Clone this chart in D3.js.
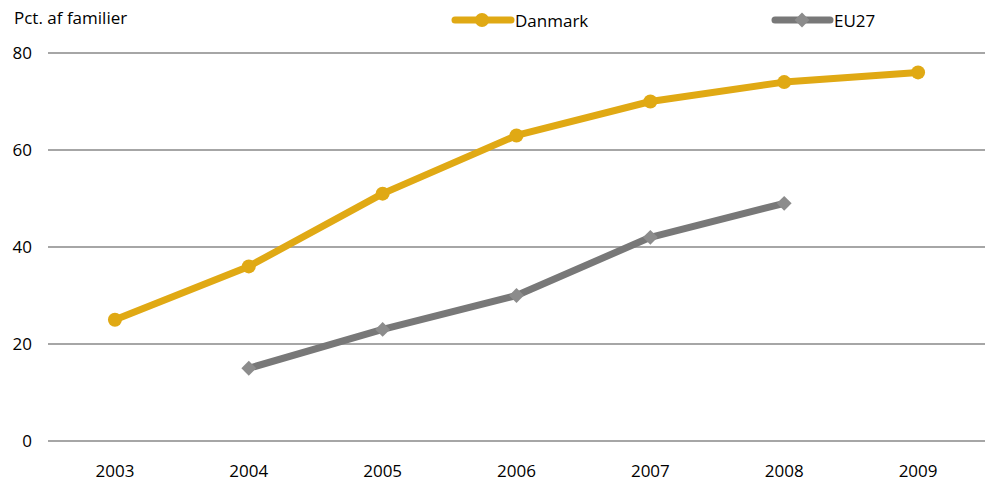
<!DOCTYPE html>
<html>
<head>
<meta charset="utf-8">
<script src="https://cdn.jsdelivr.net/npm/d3@7"></script>
<style>
  body { margin: 0; background: #fff; }
  text { font-family: "Open Sans", "Noto Sans", sans-serif; fill: #000; }
</style>
</head>
<body>
<svg id="chart"></svg>
<script>
const years = ["2003", "2004", "2005", "2006", "2007", "2008", "2009"];
const danmark = [25, 36, 51, 63, 70, 74, 76];
const eu27 = [null, 15, 23, 30, 42, 49, null];
const yTicks = [0, 20, 40, 60, 80];

const width = 993, height = 483;
const svg = d3.select("#chart").attr("width", width).attr("height", height);

const x = d3.scaleBand().domain(years).range([48, 985]);
const y = d3.scaleLinear().domain([0, 80]).range([441, 53]);
const cx = d => x(d) + x.bandwidth() / 2;

// grid
svg.append("g").selectAll("line")
  .data(yTicks).join("line")
  .attr("x1", 48).attr("x2", 985)
  .attr("y1", d => y(d)).attr("y2", d => y(d))
  .attr("stroke", "#a6a6a6").attr("stroke-width", 2);

svg.append("g").selectAll("text")
  .data(yTicks).join("text")
  .attr("x", 32).attr("y", d => y(d)).attr("dy", "0.35em")
  .attr("text-anchor", "end").attr("font-size", 17)
  .text(d => d);

svg.append("g").selectAll("text")
  .data(years).join("text")
  .attr("x", d => cx(d)).attr("y", 477)
  .attr("text-anchor", "middle").attr("font-size", 17)
  .text(d => d);

svg.append("text").attr("x", 14).attr("y", 24).attr("font-size", 17)
  .text("Pct. af familier");

const line = d3.line()
  .defined(d => d.v !== null)
  .x(d => cx(d.year)).y(d => y(d.v));

function pts(vals) {
  return years.map((yr, i) => ({ year: yr, v: vals[i] }));
}

const danColor = "#e0a914";
const euLine = "#787878", euMark = "#8c8c8c";

svg.append("path").datum(pts(danmark))
  .attr("d", line).attr("fill", "none")
  .attr("stroke", danColor).attr("stroke-width", 7).attr("stroke-linejoin", "round");
svg.append("g").selectAll("circle")
  .data(pts(danmark)).join("circle")
  .attr("cx", d => cx(d.year)).attr("cy", d => y(d.v)).attr("r", 7)
  .attr("fill", danColor);

svg.append("path").datum(pts(eu27))
  .attr("d", line).attr("fill", "none")
  .attr("stroke", euLine).attr("stroke-width", 7).attr("stroke-linejoin", "round");
const diamond = d3.symbol().type(d3.symbolSquare).size(110);
svg.append("g").selectAll("path")
  .data(pts(eu27).filter(d => d.v !== null)).join("path")
  .attr("d", diamond)
  .attr("transform", d => `translate(${cx(d.year)},${y(d.v)}) rotate(45)`)
  .attr("fill", euMark);

// legend
const lg = svg.append("g");
lg.append("line").attr("x1", 455).attr("x2", 511).attr("y1", 20).attr("y2", 20)
  .attr("stroke", danColor).attr("stroke-width", 7).attr("stroke-linecap", "round");
lg.append("circle").attr("cx", 482).attr("cy", 20).attr("r", 7).attr("fill", danColor);
lg.append("text").attr("x", 515).attr("y", 27).attr("font-size", 17).text("Danmark");

lg.append("line").attr("x1", 775).attr("x2", 830).attr("y1", 20).attr("y2", 20)
  .attr("stroke", euLine).attr("stroke-width", 7).attr("stroke-linecap", "round");
lg.append("path").attr("d", diamond)
  .attr("transform", "translate(802,20) rotate(45)").attr("fill", euMark);
lg.append("text").attr("x", 834).attr("y", 27).attr("font-size", 17).text("EU27");
</script>
</body>
</html>
